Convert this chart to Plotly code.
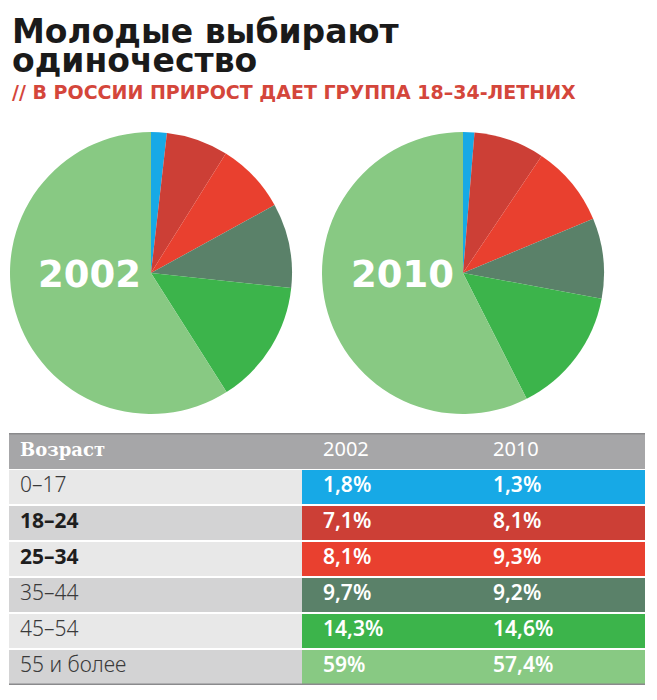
import plotly.graph_objects as go

# ---- data ----
ages = ["0–17", "18–24", "25–34", "35–44", "45–54", "55 и более"]
share_2002 = [1.8, 7.1, 8.1, 9.7, 14.3, 59.0]
share_2010 = [1.3, 8.1, 9.3, 9.2, 14.6, 57.4]
bold_rows = [False, True, True, False, False, False]
years = ["2002", "2010"]
age_colors = ["#17a9e6", "#cc3f36", "#e9402f", "#5a8169", "#3cb44b", "#88c983"]

title_line1 = "Молодые выбирают"
title_line2 = "одиночество"
subtitle = "// В РОССИИ ПРИРОСТ ДАЕТ ГРУППА 18–34-ЛЕТНИХ"
header_label = "Возраст"

# page is 657x700, the html body has an 8px margin -> figure is offset by 8px
OFF = 8
FW, FH = 657 - OFF, 700 - OFF


def px(x):
    return (x - OFF) / FW


def py(y):
    return 1 - (y - OFF) / FH


def fmt(v):
    return f"{v:g}".replace(".", ",") + "%"


fig = go.Figure()

# ---- pies ----
pie_boxes = [(10, 292), (322, 604)]
for vals, (x0, x1) in zip([share_2002, share_2010], pie_boxes):
    fig.add_trace(go.Pie(
        values=vals, labels=ages, sort=False, direction="clockwise", rotation=0,
        marker=dict(colors=age_colors, line=dict(width=0)),
        textinfo="none", hoverinfo="label+percent",
        domain=dict(x=[px(x0), px(x1)], y=[py(414), py(132)]),
        showlegend=False,
    ))

# pie year labels
for yr, cx in zip(years, [89, 402]):
    fig.add_annotation(
        text=yr, x=px(cx), y=py(274), xref="paper", yref="paper",
        showarrow=False, xanchor="center", yanchor="middle",
        font=dict(family="DejaVu Sans", size=37, color="white", weight="bold"),
    )

# ---- table as horizontal bars on its own axes ----
n = len(ages)
row_y = list(range(1, n + 1))
left_x0, mid_x, right_x1 = 9, 302, 645
label_fill = ["#e8e8e8" if i % 2 == 0 else "#d3d3d4" for i in range(n)]
bar_w = 0.93

# header row
fig.add_trace(go.Bar(
    orientation="h", y=[0], x=[right_x1 - left_x0], base=[left_x0], width=1.0,
    marker=dict(color="#a6a6a8", line=dict(width=0)), hoverinfo="skip", showlegend=False,
))
# label cells
fig.add_trace(go.Bar(
    orientation="h", y=row_y, x=[mid_x - left_x0] * n, base=[left_x0] * n, width=bar_w,
    marker=dict(color=label_fill, line=dict(width=0)), hoverinfo="skip", showlegend=False,
))
# value cells
fig.add_trace(go.Bar(
    orientation="h", y=row_y, x=[right_x1 - mid_x] * n, base=[mid_x] * n, width=bar_w,
    marker=dict(color=age_colors, line=dict(width=0)), hoverinfo="skip", showlegend=False,
))

# header text
fig.add_trace(go.Scatter(
    x=[20], y=[0], mode="text", text=[header_label], textposition="middle right",
    textfont=dict(family="DejaVu Serif", size=18, color="white", weight=700),
    hoverinfo="skip", showlegend=False,
))
fig.add_trace(go.Scatter(
    x=[323, 493], y=[0, 0], mode="text", text=years, textposition="middle right",
    textfont=dict(family="Noto Sans", size=20, color="white", weight=400),
    hoverinfo="skip", showlegend=False,
))
# age labels
fig.add_trace(go.Scatter(
    x=[20] * n, y=row_y, mode="text",
    text=ages, textposition="middle right",
    textfont=dict(family="Noto Sans", size=21,
                  color=["#1e1e1e" if b else "#3a3a3a" for b in bold_rows],
                  weight=[700 if b else 300 for b in bold_rows]),
    hoverinfo="skip", showlegend=False,
))
# values
for vals, xpos in zip([share_2002, share_2010], [323, 493]):
    fig.add_trace(go.Scatter(
        x=[xpos] * n, y=row_y, mode="text",
        text=[fmt(v) for v in vals], textposition="middle right",
        textfont=dict(family="Noto Sans", size=21, color="white", weight=600),
        hoverinfo="skip", showlegend=False,
    ))

# top and bottom rules of the table
fig.add_shape(type="line", xref="x", yref="y", x0=left_x0, x1=right_x1,
              y0=-0.5, y1=-0.5, line=dict(color="#8a8a8c", width=3))
fig.add_shape(type="line", xref="x", yref="y", x0=left_x0, x1=right_x1,
              y0=n + 0.5, y1=n + 0.5, line=dict(color="#8a8a8c", width=3))

# ---- titles ----
title_font = dict(family="DejaVu Sans", size=33, color="#1a1a1a", weight="bold")
fig.add_annotation(
    text=title_line1, x=px(10), y=py(31), xref="paper", yref="paper",
    xanchor="left", yanchor="middle", showarrow=False, font=title_font,
)
fig.add_annotation(
    text=title_line2, x=px(10), y=py(61), xref="paper", yref="paper",
    xanchor="left", yanchor="middle", showarrow=False, font=title_font,
)
fig.add_annotation(
    text=subtitle, x=px(10), y=py(92), xref="paper", yref="paper",
    xanchor="left", yanchor="middle", showarrow=False,
    font=dict(family="DejaVu Sans", size=19, color="#d4463b", weight="bold"),
)

fig.update_layout(
    width=FW, height=FH, margin=dict(l=0, r=0, t=0, b=0),
    paper_bgcolor="white", plot_bgcolor="white",
    barmode="overlay", bargap=0,
    xaxis=dict(domain=[0, 1], range=[OFF, OFF + FW], visible=False, fixedrange=True),
    yaxis=dict(domain=[py(685), py(433)], range=[n + 0.5, -0.5],
               visible=False, fixedrange=True),
    showlegend=False,
)

fig.write_html("out.html")
